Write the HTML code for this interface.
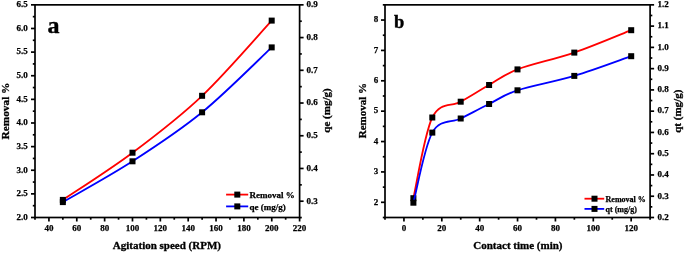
<!DOCTYPE html>
<html><head><meta charset="utf-8"><style>
html,body{margin:0;padding:0;background:#fff;width:685px;height:253px;overflow:hidden}
svg{display:block;will-change:transform}
text{font-family:"Liberation Serif", serif;font-weight:bold;fill:#000}
</style></head><body>
<svg width="685" height="253" viewBox="0 0 685 253">
<rect x="35" y="4.85" width="264.6" height="212.65" fill="none" stroke="#000" stroke-width="1.7"/>
<line x1="48.93" y1="217.5" x2="48.93" y2="221.5" stroke="#000" stroke-width="1.7"/>
<text x="48.93" y="231.3" font-size="9" text-anchor="middle" stroke="#000" stroke-width="0.25">40</text>
<line x1="76.78" y1="217.5" x2="76.78" y2="221.5" stroke="#000" stroke-width="1.7"/>
<text x="76.78" y="231.3" font-size="9" text-anchor="middle" stroke="#000" stroke-width="0.25">60</text>
<line x1="104.63" y1="217.5" x2="104.63" y2="221.5" stroke="#000" stroke-width="1.7"/>
<text x="104.63" y="231.3" font-size="9" text-anchor="middle" stroke="#000" stroke-width="0.25">80</text>
<line x1="132.48" y1="217.5" x2="132.48" y2="221.5" stroke="#000" stroke-width="1.7"/>
<text x="132.48" y="231.3" font-size="9" text-anchor="middle" stroke="#000" stroke-width="0.25">100</text>
<line x1="160.34" y1="217.5" x2="160.34" y2="221.5" stroke="#000" stroke-width="1.7"/>
<text x="160.34" y="231.3" font-size="9" text-anchor="middle" stroke="#000" stroke-width="0.25">120</text>
<line x1="188.19" y1="217.5" x2="188.19" y2="221.5" stroke="#000" stroke-width="1.7"/>
<text x="188.19" y="231.3" font-size="9" text-anchor="middle" stroke="#000" stroke-width="0.25">140</text>
<line x1="216.04" y1="217.5" x2="216.04" y2="221.5" stroke="#000" stroke-width="1.7"/>
<text x="216.04" y="231.3" font-size="9" text-anchor="middle" stroke="#000" stroke-width="0.25">160</text>
<line x1="243.89" y1="217.5" x2="243.89" y2="221.5" stroke="#000" stroke-width="1.7"/>
<text x="243.89" y="231.3" font-size="9" text-anchor="middle" stroke="#000" stroke-width="0.25">180</text>
<line x1="271.75" y1="217.5" x2="271.75" y2="221.5" stroke="#000" stroke-width="1.7"/>
<text x="271.75" y="231.3" font-size="9" text-anchor="middle" stroke="#000" stroke-width="0.25">200</text>
<line x1="299.60" y1="217.5" x2="299.60" y2="221.5" stroke="#000" stroke-width="1.7"/>
<text x="299.60" y="231.3" font-size="9" text-anchor="middle" stroke="#000" stroke-width="0.25">220</text>
<line x1="35.00" y1="217.5" x2="35.00" y2="219.7" stroke="#000" stroke-width="1.7"/>
<line x1="62.85" y1="217.5" x2="62.85" y2="219.7" stroke="#000" stroke-width="1.7"/>
<line x1="90.71" y1="217.5" x2="90.71" y2="219.7" stroke="#000" stroke-width="1.7"/>
<line x1="118.56" y1="217.5" x2="118.56" y2="219.7" stroke="#000" stroke-width="1.7"/>
<line x1="146.41" y1="217.5" x2="146.41" y2="219.7" stroke="#000" stroke-width="1.7"/>
<line x1="174.26" y1="217.5" x2="174.26" y2="219.7" stroke="#000" stroke-width="1.7"/>
<line x1="202.12" y1="217.5" x2="202.12" y2="219.7" stroke="#000" stroke-width="1.7"/>
<line x1="229.97" y1="217.5" x2="229.97" y2="219.7" stroke="#000" stroke-width="1.7"/>
<line x1="257.82" y1="217.5" x2="257.82" y2="219.7" stroke="#000" stroke-width="1.7"/>
<line x1="285.67" y1="217.5" x2="285.67" y2="219.7" stroke="#000" stroke-width="1.7"/>
<line x1="31.0" y1="217.50" x2="35" y2="217.50" stroke="#000" stroke-width="1.7"/>
<text x="27.8" y="219.80" font-size="9" text-anchor="end" stroke="#000" stroke-width="0.25">2.0</text>
<line x1="31.0" y1="193.87" x2="35" y2="193.87" stroke="#000" stroke-width="1.7"/>
<text x="27.8" y="196.17" font-size="9" text-anchor="end" stroke="#000" stroke-width="0.25">2.5</text>
<line x1="31.0" y1="170.24" x2="35" y2="170.24" stroke="#000" stroke-width="1.7"/>
<text x="27.8" y="172.54" font-size="9" text-anchor="end" stroke="#000" stroke-width="0.25">3.0</text>
<line x1="31.0" y1="146.62" x2="35" y2="146.62" stroke="#000" stroke-width="1.7"/>
<text x="27.8" y="148.92" font-size="9" text-anchor="end" stroke="#000" stroke-width="0.25">3.5</text>
<line x1="31.0" y1="122.99" x2="35" y2="122.99" stroke="#000" stroke-width="1.7"/>
<text x="27.8" y="125.29" font-size="9" text-anchor="end" stroke="#000" stroke-width="0.25">4.0</text>
<line x1="31.0" y1="99.36" x2="35" y2="99.36" stroke="#000" stroke-width="1.7"/>
<text x="27.8" y="101.66" font-size="9" text-anchor="end" stroke="#000" stroke-width="0.25">4.5</text>
<line x1="31.0" y1="75.73" x2="35" y2="75.73" stroke="#000" stroke-width="1.7"/>
<text x="27.8" y="78.03" font-size="9" text-anchor="end" stroke="#000" stroke-width="0.25">5.0</text>
<line x1="31.0" y1="52.11" x2="35" y2="52.11" stroke="#000" stroke-width="1.7"/>
<text x="27.8" y="54.41" font-size="9" text-anchor="end" stroke="#000" stroke-width="0.25">5.5</text>
<line x1="31.0" y1="28.48" x2="35" y2="28.48" stroke="#000" stroke-width="1.7"/>
<text x="27.8" y="30.78" font-size="9" text-anchor="end" stroke="#000" stroke-width="0.25">6.0</text>
<line x1="31.0" y1="4.85" x2="35" y2="4.85" stroke="#000" stroke-width="1.7"/>
<text x="27.8" y="7.15" font-size="9" text-anchor="end" stroke="#000" stroke-width="0.25">6.5</text>
<line x1="32.8" y1="205.69" x2="35" y2="205.69" stroke="#000" stroke-width="1.7"/>
<line x1="32.8" y1="182.06" x2="35" y2="182.06" stroke="#000" stroke-width="1.7"/>
<line x1="32.8" y1="158.43" x2="35" y2="158.43" stroke="#000" stroke-width="1.7"/>
<line x1="32.8" y1="134.80" x2="35" y2="134.80" stroke="#000" stroke-width="1.7"/>
<line x1="32.8" y1="111.17" x2="35" y2="111.17" stroke="#000" stroke-width="1.7"/>
<line x1="32.8" y1="87.55" x2="35" y2="87.55" stroke="#000" stroke-width="1.7"/>
<line x1="32.8" y1="63.92" x2="35" y2="63.92" stroke="#000" stroke-width="1.7"/>
<line x1="32.8" y1="40.29" x2="35" y2="40.29" stroke="#000" stroke-width="1.7"/>
<line x1="32.8" y1="16.66" x2="35" y2="16.66" stroke="#000" stroke-width="1.7"/>
<line x1="299.6" y1="201.20" x2="303.6" y2="201.20" stroke="#000" stroke-width="1.7"/>
<text x="306.4" y="203.50" font-size="9" text-anchor="start" stroke="#000" stroke-width="0.25">0.3</text>
<line x1="299.6" y1="168.47" x2="303.6" y2="168.47" stroke="#000" stroke-width="1.7"/>
<text x="306.4" y="170.78" font-size="9" text-anchor="start" stroke="#000" stroke-width="0.25">0.4</text>
<line x1="299.6" y1="135.75" x2="303.6" y2="135.75" stroke="#000" stroke-width="1.7"/>
<text x="306.4" y="138.05" font-size="9" text-anchor="start" stroke="#000" stroke-width="0.25">0.5</text>
<line x1="299.6" y1="103.02" x2="303.6" y2="103.02" stroke="#000" stroke-width="1.7"/>
<text x="306.4" y="105.32" font-size="9" text-anchor="start" stroke="#000" stroke-width="0.25">0.6</text>
<line x1="299.6" y1="70.30" x2="303.6" y2="70.30" stroke="#000" stroke-width="1.7"/>
<text x="306.4" y="72.60" font-size="9" text-anchor="start" stroke="#000" stroke-width="0.25">0.7</text>
<line x1="299.6" y1="37.57" x2="303.6" y2="37.57" stroke="#000" stroke-width="1.7"/>
<text x="306.4" y="39.87" font-size="9" text-anchor="start" stroke="#000" stroke-width="0.25">0.8</text>
<line x1="299.6" y1="4.85" x2="303.6" y2="4.85" stroke="#000" stroke-width="1.7"/>
<text x="306.4" y="7.15" font-size="9" text-anchor="start" stroke="#000" stroke-width="0.25">0.9</text>
<line x1="299.6" y1="217.56" x2="301.8" y2="217.56" stroke="#000" stroke-width="1.7"/>
<line x1="299.6" y1="184.84" x2="301.8" y2="184.84" stroke="#000" stroke-width="1.7"/>
<line x1="299.6" y1="152.11" x2="301.8" y2="152.11" stroke="#000" stroke-width="1.7"/>
<line x1="299.6" y1="119.39" x2="301.8" y2="119.39" stroke="#000" stroke-width="1.7"/>
<line x1="299.6" y1="86.66" x2="301.8" y2="86.66" stroke="#000" stroke-width="1.7"/>
<line x1="299.6" y1="53.94" x2="301.8" y2="53.94" stroke="#000" stroke-width="1.7"/>
<line x1="299.6" y1="21.21" x2="301.8" y2="21.21" stroke="#000" stroke-width="1.7"/>
<text x="8.9" y="111" font-size="11.3" text-anchor="middle" transform="rotate(-90 8.9 111)" stroke="#000" stroke-width="0.3">Removal %</text>
<text x="330.4" y="110.5" font-size="11" text-anchor="middle" transform="rotate(-90 330.4 110.5)" stroke="#000" stroke-width="0.3">qe (mg/g)</text>
<text x="166.9" y="249" font-size="11" text-anchor="middle" stroke="#000" stroke-width="0.3">Agitation speed (RPM)</text>
<text x="47.6" y="32.7" font-size="24" text-anchor="start" stroke="#000" stroke-width="0.4">a</text>
<path d="M62.85,199.90 C74.46,192.03 109.29,170.05 132.50,152.70 C155.71,135.35 178.90,117.82 202.10,95.80 C225.30,73.78 260.10,33.13 271.70,20.60" fill="none" stroke="#ff0000" stroke-width="1.8" stroke-linejoin="round"/>
<rect x="59.85" y="196.90" width="6.0" height="6.0" fill="#000"/>
<rect x="129.50" y="149.70" width="6.0" height="6.0" fill="#000"/>
<rect x="199.10" y="92.80" width="6.0" height="6.0" fill="#000"/>
<rect x="268.70" y="17.60" width="6.0" height="6.0" fill="#000"/>
<path d="M62.85,202.10 C74.46,195.30 109.29,176.27 132.50,161.30 C155.71,146.33 178.90,131.28 202.10,112.30 C225.30,93.32 260.10,58.22 271.70,47.40" fill="none" stroke="#0000ff" stroke-width="1.8" stroke-linejoin="round"/>
<rect x="59.85" y="199.10" width="6.0" height="6.0" fill="#000"/>
<rect x="129.50" y="158.30" width="6.0" height="6.0" fill="#000"/>
<rect x="199.10" y="109.30" width="6.0" height="6.0" fill="#000"/>
<rect x="268.70" y="44.40" width="6.0" height="6.0" fill="#000"/>
<line x1="226.1" y1="194.6" x2="248.2" y2="194.6" stroke="#ff0000" stroke-width="1.8"/>
<rect x="234.3" y="191.6" width="6.0" height="6.0" fill="#000"/>
<text x="249.6" y="198.1" font-size="9" text-anchor="start" stroke="#000" stroke-width="0.25">Removal %</text>
<line x1="226.1" y1="206.4" x2="248.2" y2="206.4" stroke="#0000ff" stroke-width="1.8"/>
<rect x="234.3" y="203.4" width="6.0" height="6.0" fill="#000"/>
<text x="249.6" y="209.9" font-size="9" text-anchor="start" stroke="#000" stroke-width="0.25">qe (mg/g)</text>
<rect x="385" y="4.85" width="265.1" height="212.65" fill="none" stroke="#000" stroke-width="1.7"/>
<line x1="403.94" y1="217.5" x2="403.94" y2="221.5" stroke="#000" stroke-width="1.7"/>
<text x="403.94" y="231.3" font-size="9" text-anchor="middle" stroke="#000" stroke-width="0.25">0</text>
<line x1="441.81" y1="217.5" x2="441.81" y2="221.5" stroke="#000" stroke-width="1.7"/>
<text x="441.81" y="231.3" font-size="9" text-anchor="middle" stroke="#000" stroke-width="0.25">20</text>
<line x1="479.68" y1="217.5" x2="479.68" y2="221.5" stroke="#000" stroke-width="1.7"/>
<text x="479.68" y="231.3" font-size="9" text-anchor="middle" stroke="#000" stroke-width="0.25">40</text>
<line x1="517.55" y1="217.5" x2="517.55" y2="221.5" stroke="#000" stroke-width="1.7"/>
<text x="517.55" y="231.3" font-size="9" text-anchor="middle" stroke="#000" stroke-width="0.25">60</text>
<line x1="555.42" y1="217.5" x2="555.42" y2="221.5" stroke="#000" stroke-width="1.7"/>
<text x="555.42" y="231.3" font-size="9" text-anchor="middle" stroke="#000" stroke-width="0.25">80</text>
<line x1="593.29" y1="217.5" x2="593.29" y2="221.5" stroke="#000" stroke-width="1.7"/>
<text x="593.29" y="231.3" font-size="9" text-anchor="middle" stroke="#000" stroke-width="0.25">100</text>
<line x1="631.16" y1="217.5" x2="631.16" y2="221.5" stroke="#000" stroke-width="1.7"/>
<text x="631.16" y="231.3" font-size="9" text-anchor="middle" stroke="#000" stroke-width="0.25">120</text>
<line x1="385.00" y1="217.5" x2="385.00" y2="219.7" stroke="#000" stroke-width="1.7"/>
<line x1="422.87" y1="217.5" x2="422.87" y2="219.7" stroke="#000" stroke-width="1.7"/>
<line x1="460.74" y1="217.5" x2="460.74" y2="219.7" stroke="#000" stroke-width="1.7"/>
<line x1="498.61" y1="217.5" x2="498.61" y2="219.7" stroke="#000" stroke-width="1.7"/>
<line x1="536.49" y1="217.5" x2="536.49" y2="219.7" stroke="#000" stroke-width="1.7"/>
<line x1="574.36" y1="217.5" x2="574.36" y2="219.7" stroke="#000" stroke-width="1.7"/>
<line x1="612.23" y1="217.5" x2="612.23" y2="219.7" stroke="#000" stroke-width="1.7"/>
<line x1="650.10" y1="217.5" x2="650.10" y2="219.7" stroke="#000" stroke-width="1.7"/>
<line x1="381.0" y1="202.31" x2="385" y2="202.31" stroke="#000" stroke-width="1.7"/>
<text x="378.2" y="204.61" font-size="9" text-anchor="end" stroke="#000" stroke-width="0.25">2</text>
<line x1="381.0" y1="171.93" x2="385" y2="171.93" stroke="#000" stroke-width="1.7"/>
<text x="378.2" y="174.23" font-size="9" text-anchor="end" stroke="#000" stroke-width="0.25">3</text>
<line x1="381.0" y1="141.55" x2="385" y2="141.55" stroke="#000" stroke-width="1.7"/>
<text x="378.2" y="143.85" font-size="9" text-anchor="end" stroke="#000" stroke-width="0.25">4</text>
<line x1="381.0" y1="111.17" x2="385" y2="111.17" stroke="#000" stroke-width="1.7"/>
<text x="378.2" y="113.47" font-size="9" text-anchor="end" stroke="#000" stroke-width="0.25">5</text>
<line x1="381.0" y1="80.80" x2="385" y2="80.80" stroke="#000" stroke-width="1.7"/>
<text x="378.2" y="83.10" font-size="9" text-anchor="end" stroke="#000" stroke-width="0.25">6</text>
<line x1="381.0" y1="50.42" x2="385" y2="50.42" stroke="#000" stroke-width="1.7"/>
<text x="378.2" y="52.72" font-size="9" text-anchor="end" stroke="#000" stroke-width="0.25">7</text>
<line x1="381.0" y1="20.04" x2="385" y2="20.04" stroke="#000" stroke-width="1.7"/>
<text x="378.2" y="22.34" font-size="9" text-anchor="end" stroke="#000" stroke-width="0.25">8</text>
<line x1="382.8" y1="217.50" x2="385" y2="217.50" stroke="#000" stroke-width="1.7"/>
<line x1="382.8" y1="187.12" x2="385" y2="187.12" stroke="#000" stroke-width="1.7"/>
<line x1="382.8" y1="156.74" x2="385" y2="156.74" stroke="#000" stroke-width="1.7"/>
<line x1="382.8" y1="126.36" x2="385" y2="126.36" stroke="#000" stroke-width="1.7"/>
<line x1="382.8" y1="95.99" x2="385" y2="95.99" stroke="#000" stroke-width="1.7"/>
<line x1="382.8" y1="65.61" x2="385" y2="65.61" stroke="#000" stroke-width="1.7"/>
<line x1="382.8" y1="35.23" x2="385" y2="35.23" stroke="#000" stroke-width="1.7"/>
<line x1="382.8" y1="4.85" x2="385" y2="4.85" stroke="#000" stroke-width="1.7"/>
<line x1="650.1" y1="217.50" x2="654.1" y2="217.50" stroke="#000" stroke-width="1.7"/>
<text x="657.5" y="219.80" font-size="9" text-anchor="start" stroke="#000" stroke-width="0.25">0.2</text>
<line x1="650.1" y1="196.23" x2="654.1" y2="196.23" stroke="#000" stroke-width="1.7"/>
<text x="657.5" y="198.53" font-size="9" text-anchor="start" stroke="#000" stroke-width="0.25">0.3</text>
<line x1="650.1" y1="174.97" x2="654.1" y2="174.97" stroke="#000" stroke-width="1.7"/>
<text x="657.5" y="177.27" font-size="9" text-anchor="start" stroke="#000" stroke-width="0.25">0.4</text>
<line x1="650.1" y1="153.70" x2="654.1" y2="153.70" stroke="#000" stroke-width="1.7"/>
<text x="657.5" y="156.00" font-size="9" text-anchor="start" stroke="#000" stroke-width="0.25">0.5</text>
<line x1="650.1" y1="132.44" x2="654.1" y2="132.44" stroke="#000" stroke-width="1.7"/>
<text x="657.5" y="134.74" font-size="9" text-anchor="start" stroke="#000" stroke-width="0.25">0.6</text>
<line x1="650.1" y1="111.18" x2="654.1" y2="111.18" stroke="#000" stroke-width="1.7"/>
<text x="657.5" y="113.48" font-size="9" text-anchor="start" stroke="#000" stroke-width="0.25">0.7</text>
<line x1="650.1" y1="89.91" x2="654.1" y2="89.91" stroke="#000" stroke-width="1.7"/>
<text x="657.5" y="92.21" font-size="9" text-anchor="start" stroke="#000" stroke-width="0.25">0.8</text>
<line x1="650.1" y1="68.64" x2="654.1" y2="68.64" stroke="#000" stroke-width="1.7"/>
<text x="657.5" y="70.94" font-size="9" text-anchor="start" stroke="#000" stroke-width="0.25">0.9</text>
<line x1="650.1" y1="47.38" x2="654.1" y2="47.38" stroke="#000" stroke-width="1.7"/>
<text x="657.5" y="49.68" font-size="9" text-anchor="start" stroke="#000" stroke-width="0.25">1.0</text>
<line x1="650.1" y1="26.11" x2="654.1" y2="26.11" stroke="#000" stroke-width="1.7"/>
<text x="657.5" y="28.41" font-size="9" text-anchor="start" stroke="#000" stroke-width="0.25">1.1</text>
<line x1="650.1" y1="4.85" x2="654.1" y2="4.85" stroke="#000" stroke-width="1.7"/>
<text x="657.5" y="7.15" font-size="9" text-anchor="start" stroke="#000" stroke-width="0.25">1.2</text>
<line x1="650.1" y1="206.87" x2="652.3000000000001" y2="206.87" stroke="#000" stroke-width="1.7"/>
<line x1="650.1" y1="185.60" x2="652.3000000000001" y2="185.60" stroke="#000" stroke-width="1.7"/>
<line x1="650.1" y1="164.34" x2="652.3000000000001" y2="164.34" stroke="#000" stroke-width="1.7"/>
<line x1="650.1" y1="143.07" x2="652.3000000000001" y2="143.07" stroke="#000" stroke-width="1.7"/>
<line x1="650.1" y1="121.81" x2="652.3000000000001" y2="121.81" stroke="#000" stroke-width="1.7"/>
<line x1="650.1" y1="100.54" x2="652.3000000000001" y2="100.54" stroke="#000" stroke-width="1.7"/>
<line x1="650.1" y1="79.28" x2="652.3000000000001" y2="79.28" stroke="#000" stroke-width="1.7"/>
<line x1="650.1" y1="58.01" x2="652.3000000000001" y2="58.01" stroke="#000" stroke-width="1.7"/>
<line x1="650.1" y1="36.75" x2="652.3000000000001" y2="36.75" stroke="#000" stroke-width="1.7"/>
<line x1="650.1" y1="15.48" x2="652.3000000000001" y2="15.48" stroke="#000" stroke-width="1.7"/>
<text x="365.8" y="110.6" font-size="11" text-anchor="middle" transform="rotate(-90 365.8 110.6)" stroke="#000" stroke-width="0.3">Removal %</text>
<text x="681" y="111.2" font-size="11" text-anchor="middle" transform="rotate(-90 681 111.2)" stroke="#000" stroke-width="0.3">qt (mg/g)</text>
<text x="517.9" y="249" font-size="11" text-anchor="middle" stroke="#000" stroke-width="0.3">Contact time (min)</text>
<text x="393.9" y="28.1" font-size="18.5" text-anchor="start" stroke="#000" stroke-width="0.4">b</text>
<path d="M413.40,198.20 C416.55,184.75 424.42,133.58 432.30,117.50 C440.18,101.42 451.23,107.12 460.70,101.70 C470.17,96.28 479.63,90.38 489.10,85.00 C498.57,79.62 503.30,74.80 517.50,69.40 C531.70,64.00 555.35,59.13 574.30,52.60 C593.25,46.07 621.72,33.93 631.20,30.20" fill="none" stroke="#ff0000" stroke-width="1.8" stroke-linejoin="round"/>
<rect x="410.40" y="195.20" width="6.0" height="6.0" fill="#000"/>
<rect x="429.30" y="114.50" width="6.0" height="6.0" fill="#000"/>
<rect x="457.70" y="98.70" width="6.0" height="6.0" fill="#000"/>
<rect x="486.10" y="82.00" width="6.0" height="6.0" fill="#000"/>
<rect x="514.50" y="66.40" width="6.0" height="6.0" fill="#000"/>
<rect x="571.30" y="49.60" width="6.0" height="6.0" fill="#000"/>
<rect x="628.20" y="27.20" width="6.0" height="6.0" fill="#000"/>
<path d="M413.40,202.70 C416.55,191.02 424.42,146.63 432.30,132.60 C440.18,118.57 451.23,123.27 460.70,118.50 C470.17,113.73 479.63,108.70 489.10,104.00 C498.57,99.30 503.30,94.98 517.50,90.30 C531.70,85.62 555.35,81.58 574.30,75.90 C593.25,70.22 621.72,59.48 631.20,56.20" fill="none" stroke="#0000ff" stroke-width="1.8" stroke-linejoin="round"/>
<rect x="410.40" y="199.70" width="6.0" height="6.0" fill="#000"/>
<rect x="429.30" y="129.60" width="6.0" height="6.0" fill="#000"/>
<rect x="457.70" y="115.50" width="6.0" height="6.0" fill="#000"/>
<rect x="486.10" y="101.00" width="6.0" height="6.0" fill="#000"/>
<rect x="514.50" y="87.30" width="6.0" height="6.0" fill="#000"/>
<rect x="571.30" y="72.90" width="6.0" height="6.0" fill="#000"/>
<rect x="628.20" y="53.20" width="6.0" height="6.0" fill="#000"/>
<line x1="584.5" y1="198.7" x2="604.2" y2="198.7" stroke="#ff0000" stroke-width="1.8"/>
<rect x="591.5" y="195.7" width="6.0" height="6.0" fill="#000"/>
<text x="605.6" y="201.5" font-size="8" text-anchor="start" stroke="#000" stroke-width="0.25">Removal %</text>
<line x1="584.5" y1="208.9" x2="604.2" y2="208.9" stroke="#0000ff" stroke-width="1.8"/>
<rect x="591.5" y="205.9" width="6.0" height="6.0" fill="#000"/>
<text x="605.6" y="211.70000000000002" font-size="8" text-anchor="start" stroke="#000" stroke-width="0.25">qt (mg/g)</text>
</svg>
</body></html>
